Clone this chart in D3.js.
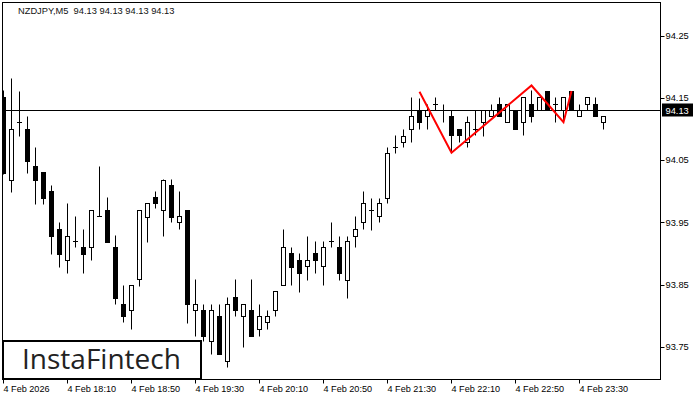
<!DOCTYPE html>
<html><head><meta charset="utf-8">
<script src="https://cdn.jsdelivr.net/npm/d3@7"></script>
<style>html,body{margin:0;padding:0;background:#fff;} svg{display:block;}</style>
</head><body>
<script>
const symbol = "NZDJPY,M5";
const headerQuote = ["94.13","94.13","94.13","94.13"];
const times = ["17:30","17:35","17:40","17:45","17:50","17:55","18:00","18:05","18:10","18:15","18:20","18:25","18:30","18:35","18:40","18:45",
"18:50","18:55","19:00","19:05","19:10","19:15","19:20","19:25","19:30","19:35","19:40","19:45","19:50","19:55","20:00","20:05",
"20:10","20:15","20:20","20:25","20:30","20:35","20:40","20:45","20:50","20:55","21:00","21:05","21:10","21:15","21:20","21:25",
"21:30","21:35","21:40","21:45","21:50","21:55","22:00","22:05","22:10","22:15","22:20","22:25","22:30","22:35","22:40","22:45",
"22:50","22:55","23:00","23:05","23:10","23:15","23:20","23:25","23:30","23:35","23:40","23:45"];
const open  = [94.152,94.019,94.111,94.100,94.041,94.031,94.000,93.939,93.889,93.920,93.911,93.910,93.960,93.970,93.911,93.819,
93.809,93.859,93.959,93.991,93.970,94.010,93.950,93.970,93.809,93.809,93.759,93.799,93.728,93.830,93.799,93.809,
93.779,93.790,93.809,93.849,93.901,93.889,93.880,93.901,93.880,93.920,93.910,93.858,93.929,93.950,93.970,93.960,
93.990,94.071,94.080,94.100,94.130,94.121,94.141,94.130,94.121,94.100,94.080,94.100,94.111,94.121,94.141,94.111,
94.130,94.111,94.141,94.130,94.161,94.141,94.130,94.161,94.121,94.141,94.141,94.111];
const high  = [94.162,94.182,94.161,94.121,94.071,94.031,94.010,93.951,93.981,93.960,93.940,93.970,94.041,93.991,93.930,93.850,
93.850,93.970,93.982,94.000,94.020,94.020,94.000,93.970,93.859,93.819,93.819,93.819,93.830,93.859,93.819,93.859,
93.819,93.809,93.840,93.940,93.911,93.901,93.929,93.920,93.920,93.950,93.929,93.929,93.960,94.001,93.990,93.990,
94.071,94.090,94.100,94.151,94.150,94.141,94.151,94.141,94.130,94.100,94.121,94.130,94.130,94.141,94.151,94.141,
94.130,94.151,94.163,94.151,94.161,94.151,94.151,94.161,94.141,94.151,94.151,94.121];
const low   = [94.028,93.999,94.089,94.030,93.980,93.980,93.900,93.879,93.869,93.910,93.869,93.889,93.960,93.919,93.819,93.790,
93.779,93.848,93.919,93.974,93.929,93.950,93.939,93.789,93.768,93.759,93.738,93.738,93.718,93.799,93.750,93.768,
93.768,93.779,93.799,93.849,93.849,93.839,93.858,93.869,93.849,93.910,93.858,93.829,93.910,93.939,93.938,93.950,
93.981,94.061,94.071,94.080,94.100,94.100,94.130,94.111,94.063,94.080,94.071,94.090,94.089,94.121,94.121,94.111,
94.100,94.090,94.111,94.130,94.130,94.111,94.111,94.130,94.121,94.130,94.121,94.100];
const close = [94.030,94.100,94.111,94.049,94.019,93.990,93.929,93.900,93.929,93.920,93.900,93.970,93.960,93.919,93.829,93.799,
93.849,93.970,93.981,93.981,94.019,93.959,93.960,93.819,93.819,93.768,93.809,93.738,93.819,93.809,93.819,93.768,
93.800,93.800,93.840,93.910,93.879,93.869,93.889,93.889,93.910,93.920,93.869,93.920,93.939,93.981,93.970,93.981,
94.061,94.071,94.089,94.121,94.111,94.130,94.141,94.130,94.090,94.090,94.111,94.100,94.130,94.130,94.121,94.141,
94.100,94.151,94.121,94.151,94.130,94.141,94.151,94.130,94.130,94.151,94.121,94.121];
const xTickIdx = [0,8,16,24,32,40,48,56,64,72];
const xTickLabels = ["4 Feb 2026","4 Feb 18:10","4 Feb 18:50","4 Feb 19:30","4 Feb 20:10","4 Feb 20:50","4 Feb 21:30","4 Feb 22:10","4 Feb 22:50","4 Feb 23:30"];
const yTicks = [93.75,93.85,93.95,94.05,94.15,94.25];
const yTickLabels = ["93.75","93.85","93.95","94.05","94.15","94.25"];
const patternIdx = [52,56,66,70,71];
const patternPrice = [94.160,94.062,94.170,94.111,94.161];
const lastPrice = 94.13;
const logoText = "InstaFintech";

const W = 700, H = 400;
const plot = {l: 2.5, t: 2.5, r: 660.5, b: 379.5};
const svg = d3.select("body").append("svg").attr("width", W).attr("height", H)
  .style("font-family", "'Liberation Sans', Arial, sans-serif");

const x = d3.scaleLinear().domain([0, 75]).range([3.5, 603.5]);
const y = d3.scaleLinear().domain([93.75, 94.25]).range([347, 35.7]);
const py = v => Math.round(y(v)) + 0.5;

svg.append("defs").append("clipPath").attr("id", "clip")
  .append("rect").attr("x", plot.l).attr("y", plot.t)
  .attr("width", plot.r - plot.l).attr("height", plot.b - plot.t);

const g = svg.append("g").attr("clip-path", "url(#clip)");

const data = times.map((t, i) => ({t, i, o: open[i], h: high[i], l: low[i], c: close[i]}));

// current price line
g.append("line").attr("x1", plot.l).attr("x2", plot.r)
  .attr("y1", py(lastPrice)).attr("y2", py(lastPrice))
  .attr("stroke", "#000").attr("stroke-width", 1);

const cs = g.selectAll("g.c").data(data).join("g").attr("class", "c");
cs.append("line")
  .attr("x1", d => x(d.i)).attr("x2", d => x(d.i))
  .attr("y1", d => py(d.h)).attr("y2", d => py(d.l))
  .attr("stroke", "#000").attr("stroke-width", 1);
cs.each(function(d) {
  const sel = d3.select(this);
  const yo = py(d.o), yc = py(d.c);
  const top = Math.min(yo, yc), bot = Math.max(yo, yc);
  const cx = x(d.i);
  if (bot - top < 1) {
    sel.append("line").attr("x1", cx - 2.5).attr("x2", cx + 2.5)
      .attr("y1", top).attr("y2", top).attr("stroke", "#000").attr("stroke-width", 1);
  } else {
    sel.append("rect").attr("x", cx - 2).attr("y", top).attr("width", 4).attr("height", bot - top)
      .attr("fill", d.c < d.o ? "#000" : "#fff").attr("stroke", "#000").attr("stroke-width", 1);
  }
});

// pattern
const pts = patternIdx.map((k, j) => [x(k), y(patternPrice[j])]);
g.append("path").attr("d", d3.line()(pts)).attr("fill", "none")
  .attr("stroke", "#ff0000").attr("stroke-width", 2).attr("stroke-linejoin", "miter");

// frame
svg.append("rect").attr("x", plot.l).attr("y", plot.t)
  .attr("width", plot.r - plot.l).attr("height", plot.b - plot.t)
  .attr("fill", "none").attr("stroke", "#000").attr("stroke-width", 1);

// y axis
const ya = svg.append("g");
yTicks.forEach((v, j) => {
  const yy = py(v);
  ya.append("line").attr("x1", plot.r).attr("x2", plot.r + 4).attr("y1", yy).attr("y2", yy).attr("stroke", "#000");
  ya.append("text").attr("x", 665.5).attr("y", y(v)).attr("dy", "0.35em")
    .attr("font-size", 9.3).attr("fill", "#000").text(yTickLabels[j]);
});
// current price box
svg.append("rect").attr("x", 662).attr("y", Math.round(y(lastPrice)) - 6.5).attr("width", 31).attr("height", 13).attr("fill", "#000");
svg.append("text").attr("x", 665.5).attr("y", y(lastPrice)).attr("dy", "0.35em")
  .attr("font-size", 9.3).attr("fill", "#fff").text(d3.format(".2f")(lastPrice));

// x axis
const xa = svg.append("g");
xTickIdx.forEach((k, j) => {
  const xx = x(k);
  xa.append("line").attr("x1", xx).attr("x2", xx).attr("y1", plot.b).attr("y2", plot.b + 4).attr("stroke", "#000");
  xa.append("text").attr("x", xx).attr("y", 391.5)
    .attr("font-size", 9.1).attr("fill", "#000").text(xTickLabels[j]);
});

// header
svg.append("text").attr("x", 18).attr("y", 14).attr("font-size", 9.3).attr("fill", "#111")
  .attr("xml:space", "preserve")
  .text(symbol + "  " + headerQuote.join(" "));

// logo
svg.append("rect").attr("x", 3).attr("y", 341).attr("width", 198).attr("height", 38)
  .attr("fill", "#fff").attr("stroke", "#000").attr("stroke-width", 2);
svg.append("text").attr("x", 22).attr("y", 369).attr("font-family", "'Open Sans', sans-serif")
  .attr("font-size", 28).attr("fill", "#222").text(logoText);
</script>
</body></html>
